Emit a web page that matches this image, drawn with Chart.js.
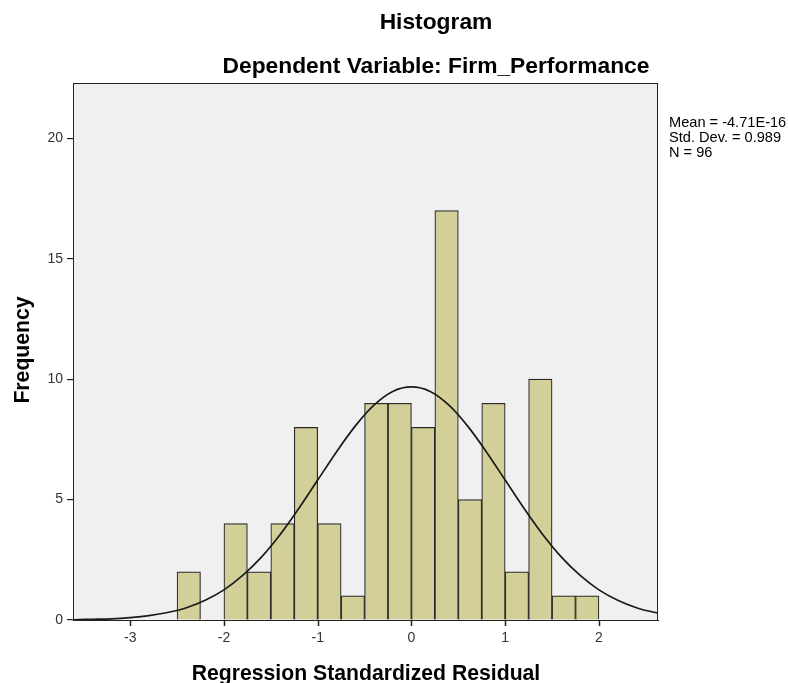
<!DOCTYPE html>
<html>
<head>
<meta charset="utf-8">
<script src="https://cdn.jsdelivr.net/npm/chart.js@4.4.0/dist/chart.umd.min.js"></script>
<style>
  html, body { margin: 0; padding: 0; background: #fff; }
  #wrap { position: relative; width: 789px; height: 683px; }
</style>
</head>
<body>
<div id="wrap"><canvas id="histChart"></canvas></div>
<script>
// histogram bins (centres) and frequencies
const binCenters = [-2.375, -2.125, -1.875, -1.625, -1.375, -1.125, -0.875, -0.625, -0.375, -0.125,
                    0.125, 0.375, 0.625, 0.875, 1.125, 1.375, 1.625, 1.875];
const frequencies = [2, 0, 4, 2, 4, 8, 4, 1, 9, 9, 8, 17, 5, 9, 2, 10, 1, 1];

// normal curve
const curveX = [-3.8, -3.6, -3.4, -3.2, -3.0, -2.8, -2.6, -2.4, -2.2, -2.0, -1.8, -1.6, -1.4, -1.2, -1.0, -0.8, -0.6, -0.4, -0.2,
                0, 0.2, 0.4, 0.6, 0.8, 1.0, 1.2, 1.4, 1.6, 1.8, 2.0, 2.2, 2.4, 2.6, 2.8];
const curveY = [0.01, 0.01, 0.03, 0.05, 0.10, 0.18, 0.31, 0.51, 0.82, 1.25, 1.85, 2.61, 3.55, 4.64, 5.81, 6.98, 8.05, 8.92, 9.49,
                9.68, 9.49, 8.92, 8.05, 6.98, 5.81, 4.64, 3.55, 2.61, 1.85, 1.25, 0.82, 0.51, 0.31, 0.18];

const xTicks = [-3, -2, -1, 0, 1, 2];
const yTicks = [0, 5, 10, 15, 20];
const statsLines = ['Mean = -4.71E-16', 'Std. Dev. = 0.989', 'N = 96'];

const FONT = '"Liberation Sans", Arial, sans-serif';

// фон області графіка + рамка + підписи
const decor = {
    id: 'decor',
    beforeDatasetsDraw(chart) {
        const { ctx, chartArea: a } = chart;
        ctx.save();
        ctx.fillStyle = '#f0f0f0';
        ctx.fillRect(a.left, a.top, a.right - a.left, a.bottom - a.top);
        ctx.restore();
    },
    afterDraw(chart) {
        const { ctx, chartArea: a } = chart;
        const xs = chart.scales.x;
        ctx.save();
        ctx.strokeStyle = '#222';
        ctx.lineWidth = 1;
        ctx.strokeRect(a.left + 0.5, a.top + 0.5, a.right - a.left - 1, a.bottom - a.top);

        // мітки осі X
        ctx.strokeStyle = '#222';
        ctx.lineWidth = 1.5;
        xTicks.forEach(v => {
            const px = Math.round(xs.getPixelForValue(v)) + 0.5;
            ctx.beginPath();
            ctx.moveTo(px, a.bottom);
            ctx.lineTo(px, a.bottom + 6);
            ctx.stroke();
        });

        ctx.fillStyle = '#000';
        ctx.textAlign = 'center';
        ctx.textBaseline = 'alphabetic';
        ctx.font = 'bold 22.8px ' + FONT;
        ctx.fillText('Histogram', 436, 29);
        ctx.fillText('Dependent Variable: Firm_Performance', 436, 73);

        ctx.font = 'bold 21.2px ' + FONT;
        ctx.fillText('Regression Standardized Residual', 366, 680);

        ctx.save();
        ctx.translate(29, 350);
        ctx.rotate(-Math.PI / 2);
        ctx.fillText('Frequency', 0, 0);
        ctx.restore();

        ctx.textAlign = 'left';
        ctx.font = '14.6px ' + FONT;
        statsLines.forEach((t, i) => ctx.fillText(t, 669, 127 + i * 15));
        ctx.restore();
    }
};

const ctx = document.getElementById('histChart');

new Chart(ctx, {
    type: 'bar',
    data: {
        datasets: [{
            type: 'bar',
            data: binCenters.map((x, i) => ({ x: x, y: frequencies[i] })),
            backgroundColor: '#d3cf98',
            borderColor: '#2a2a2a',
            borderWidth: 1.2,
            barPercentage: 1,
            categoryPercentage: 1,
            grouped: false,
            order: 2
        }, {
            type: 'line',
            data: curveX.map((x, i) => ({ x: x, y: curveY[i] })),
            borderColor: '#1a1a1a',
            borderWidth: 1.7,
            pointRadius: 0,
            fill: false,
            cubicInterpolationMode: 'monotone',
            order: 1
        }]
    },
    options: {
        responsive: true,
        maintainAspectRatio: false,
        animation: false,
        events: [],
        layout: { padding: { left: 0, top: 83, right: 131, bottom: 0 } },
        plugins: { legend: { display: false }, tooltip: { enabled: false } },
        scales: {
            x: {
                type: 'linear',
                min: -3.61,
                max: 2.63,
                offset: false,
                afterFit: s => { s.height = 63; },
                afterBuildTicks: s => { s.ticks = xTicks.map(v => ({ value: v })); },
                grid: { display: false, tickLength: 6 },
                border: { display: true, color: '#222' },
                ticks: { color: '#333', font: { family: FONT, size: 14 }, padding: 4, maxRotation: 0 }
            },
            y: {
                min: 0,
                max: 22.3,
                afterFit: s => { s.width = 73; },
                afterBuildTicks: s => { s.ticks = yTicks.map(v => ({ value: v })); },
                grid: { offset: false, drawOnChartArea: false, drawTicks: true, tickLength: 6, color: '#222', lineWidth: 1.2 },
                border: { display: true, color: '#222' },
                ticks: { color: '#333', font: { family: FONT, size: 14 }, padding: 4 }
            }
        }
    },
    plugins: [decor]
});
</script>
</body>
</html>
